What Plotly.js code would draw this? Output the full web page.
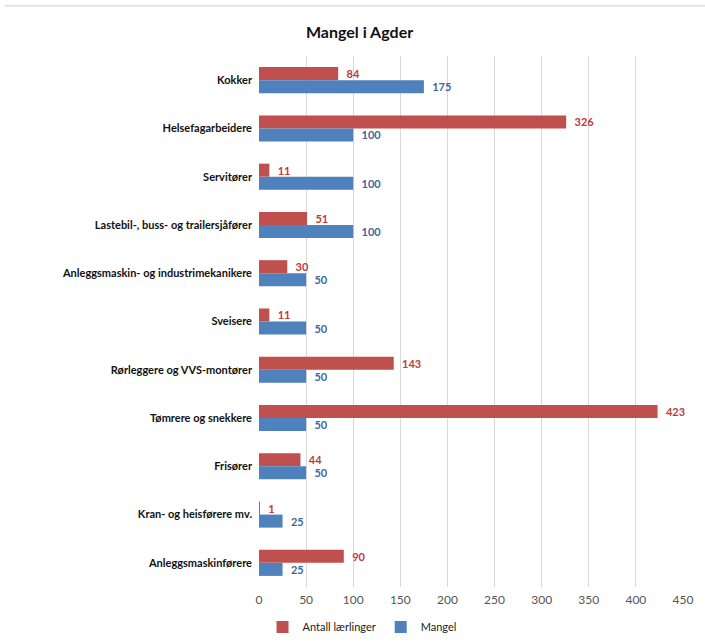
<!DOCTYPE html>
<html><head><meta charset="utf-8">
<script src="https://cdn.plot.ly/plotly-3.0.1.min.js"></script>
<style>body{margin:0;background:#fff}#c{width:705px;height:641px}</style>
</head><body><div id="c"></div>
<script>
const categories = ["Kokker","Helsefagarbeidere","Servitører","Lastebil-, buss- og trailersjåfører","Anleggsmaskin- og industrimekanikere","Sveisere","Rørleggere og VVS-montører","Tømrere og snekkere","Frisører","Kran- og heisførere mv.","Anleggsmaskinførere"];
const laerlinger = [84,326,11,51,30,11,143,423,44,1,90];
const mangel = [175,100,100,100,50,50,50,50,50,25,25];
const tickVals = [0,50,100,150,200,250,300,350,400,450];

const font = "Lato, 'Open Sans', sans-serif";
const traces = [
 {type:'bar',orientation:'h',name:'Antall lærlinger',y:categories,x:laerlinger,
  marker:{color:'#C0504D'},text:laerlinger.map(String),texttemplate:'  %{text}',textposition:'outside',
  textfont:{color:'#C0393B',size:11,family:font,weight:'bold'},cliponaxis:false},
 {type:'bar',orientation:'h',name:'Mangel',y:categories,x:mangel,
  marker:{color:'#4F81BD'},text:mangel.map(String),texttemplate:'  %{text}',textposition:'outside',
  textfont:{color:'#3F6599',size:11,family:font,weight:'bold'},cliponaxis:false}
];
const layout = {
 width:705,height:641,paper_bgcolor:'#fff',plot_bgcolor:'#fff',
 margin:{l:259,r:22,t:56,b:54,autoexpand:false},
 barmode:'group',bargap:0.46,bargroupgap:0,
 font:{family:font,color:'#000'},
 title:{text:'Mangel i Agder',font:{size:16,family:font,weight:'bold',color:'#111'},x:0.51,xanchor:'center',y:0.95,yanchor:'middle'},
 xaxis:{range:[0,450],tickvals:tickVals,ticktext:tickVals.map(String),showgrid:true,gridcolor:'#D9D9D9',gridwidth:1,
   zeroline:false,showline:false,tickfont:{size:12,color:'#555',family:font},ticks:'',ticklabelstandoff:4,fixedrange:true},
 yaxis:{autorange:'reversed',type:'category',tickfont:{size:11,color:'#111',family:font,weight:'bold'},
   ticks:'',showline:false,ticklabelstandoff:6},
 showlegend:true,
 legend:{orientation:'h',x:0.243,xanchor:'center',yref:'container',y:0.022,yanchor:'middle',itemwidth:30,
   font:{size:11,family:font,color:'#222'},traceorder:'normal'},
 shapes:[{type:'line',xref:'paper',yref:'paper',x0:-0.6,x1:1.06,y0:1.0947,y1:1.0947,line:{color:'#E3E3E3',width:2}}]
};
Plotly.newPlot('c',traces,layout,{displayModeBar:false,staticPlot:true});
</script></body></html>
